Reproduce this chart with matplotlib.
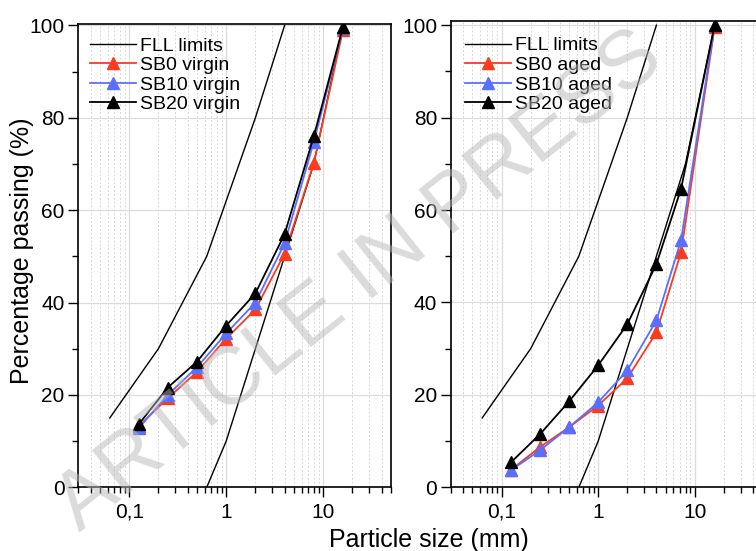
import numpy as np
import matplotlib
matplotlib.use('Agg')
import matplotlib.pyplot as plt
from matplotlib.ticker import FixedLocator, FuncFormatter, LogLocator, NullFormatter

plt.rcParams['font.family'] = ['Liberation Sans', 'DejaVu Sans']

# colours
RED = '#fa3c1e'
BLUE = '#5a6eff'
BLACK = '#000000'

# FLL grading envelope
fll_upper_x = [0.063, 0.2, 0.63, 1, 2, 4]
fll_upper_y = [15, 30, 50, 62, 80, 100]
fll_lower_x = [0.63, 1, 2, 4, 8, 16]
fll_lower_y = [0, 10, 30, 50, 70, 100]

# virgin substrates
sieve_virgin = [0.125, 0.25, 0.5, 1, 2, 4, 8, 16]
sb0_virgin = [13.2, 19.3, 25.0, 32.2, 38.5, 50.6, 70.2, 99.0]
sb10_virgin = [12.8, 20.0, 26.0, 33.3, 40.0, 52.8, 74.7, 99.5]
sb20_virgin = [13.6, 21.6, 27.2, 35.0, 42.0, 54.8, 76.0, 99.7]

# aged substrates
sieve_aged = [0.125, 0.25, 0.5, 1, 2, 4, 7.2, 16]
sb0_aged = [3.8, 8.7, 13.0, 17.7, 23.6, 33.5, 50.9, 99.5]
sb10_aged = [3.7, 8.0, 13.0, 18.4, 25.3, 36.1, 53.5, 100]
sb20_aged = [5.4, 11.5, 18.6, 26.4, 35.3, 48.3, 64.6, 100]

x_major = [0.1, 1, 10]
x_major_labels = ['0,1', '1', '10']

fig = plt.figure(figsize=(7.56, 5.51), dpi=100)
ax1 = fig.add_axes([0.1038, 0.1156, 0.4134, 0.8417])
ax2 = fig.add_axes([0.5966, 0.1156, 0.4119, 0.8463])


def style_axis(ax, ytop):
    ax.set_xscale('log')
    ax.set_xlim(0.03, 50)
    ax.set_ylim(0, ytop)
    ax.xaxis.set_major_locator(FixedLocator(x_major))
    ax.xaxis.set_major_formatter(FuncFormatter(lambda v, p: x_major_labels[x_major.index(v)] if v in x_major else ''))
    ax.xaxis.set_minor_locator(LogLocator(base=10, subs=np.arange(2, 10)))
    ax.xaxis.set_minor_formatter(NullFormatter())
    ax.set_yticks([0, 20, 40, 60, 80, 100])
    ax.set_yticks([10, 30, 50, 70, 90], minor=True)
    ax.grid(True, which='major', color='#dcdcdc', lw=0.9)
    ax.grid(True, which='minor', axis='x', color='#d8d8d8', lw=0.7, ls=(0, (2, 2)))
    ax.set_axisbelow(True)
    ax.tick_params(which='major', direction='out', length=7, width=1.0, labelsize=15, pad=4)
    ax.tick_params(which='minor', direction='out', length=4, width=1.0)
    ax.tick_params(axis='y', pad=3)
    for s in ax.spines.values():
        s.set_linewidth(1.2)


style_axis(ax1, 100.4)
style_axis(ax2, 100.9)

mk = dict(marker='^', markersize=8, lw=1.3)

ax1.plot(fll_upper_x, fll_upper_y, color=BLACK, lw=1.0, label='FLL limits')
ax1.plot(fll_lower_x, fll_lower_y, color=BLACK, lw=1.0)
ax1.plot(sieve_virgin, sb0_virgin, color=RED, label='SB0 virgin', **mk)
ax1.plot(sieve_virgin, sb10_virgin, color=BLUE, label='SB10 virgin', **mk)
ax1.plot(sieve_virgin, sb20_virgin, color=BLACK, label='SB20 virgin', **mk)

ax2.plot(fll_upper_x, fll_upper_y, color=BLACK, lw=1.0, label='FLL limits')
ax2.plot(fll_lower_x, fll_lower_y, color=BLACK, lw=1.0)
ax2.plot(sieve_aged, sb0_aged, color=RED, label='SB0 aged', **mk)
ax2.plot(sieve_aged, sb10_aged, color=BLUE, label='SB10 aged', **mk)
ax2.plot(sieve_aged, sb20_aged, color=BLACK, label='SB20 aged', **mk)

leg_kw = dict(loc='upper left', frameon=False, fontsize=14, borderpad=0, borderaxespad=0,
              handlelength=2.37, handletextpad=0.2, labelspacing=0.1)
ax1.legend(bbox_to_anchor=(0.037, 0.971), **leg_kw)
ax2.legend(bbox_to_anchor=(0.045, 0.966), **leg_kw)

fig.text(22.5 / 756, 1 - 251 / 551, 'Percentage passing (%)', fontsize=18, rotation=90,
         ha='center', va='center')
fig.text(429 / 756, 1 - 540 / 551, 'Particle size (mm)', fontsize=18, ha='center', va='center')

# watermark
fig.text(360 / 756, 1 - 282 / 551, 'ARTICLE IN PRESS', fontsize=59, color='#b8b8b8', alpha=0.5,
         rotation=38.6, rotation_mode='anchor', ha='center', va='center', zorder=10)

fig.savefig('out.png', dpi=100)
